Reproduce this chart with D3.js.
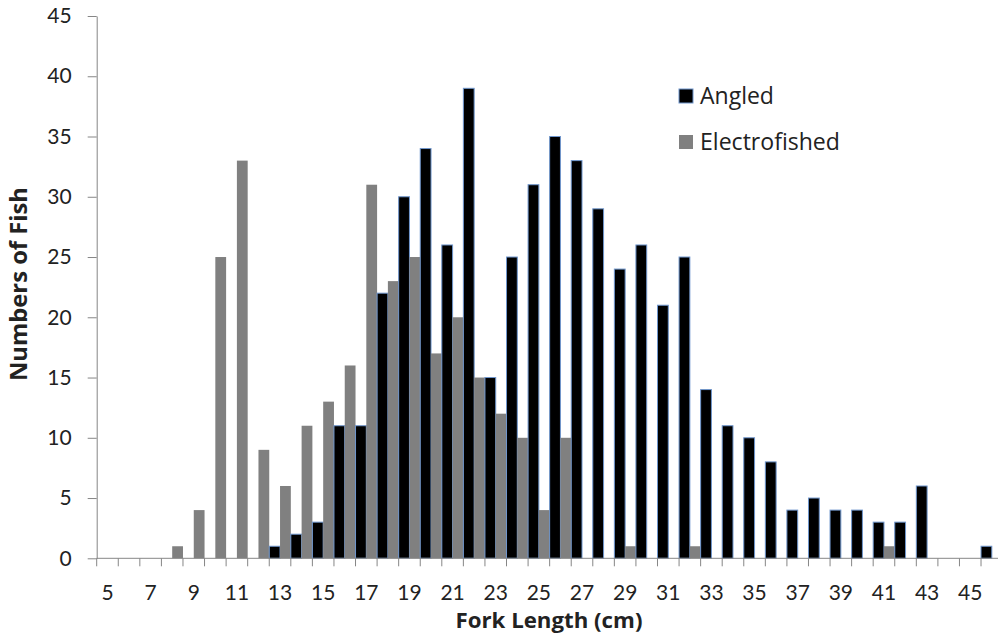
<!DOCTYPE html>
<html>
<head>
<meta charset="utf-8">
<script src="https://cdn.jsdelivr.net/npm/d3@7"></script>
<style>
  html, body { margin: 0; padding: 0; background: #fff; }
  svg { display: block; }
  text { font-family: Lato, "Open Sans", sans-serif; fill: #222; }
</style>
</head>
<body>
<svg id="chart" width="998" height="637"></svg>
<script>
// ---- data ----
const categories = [5,6,7,8,9,10,11,12,13,14,15,16,17,18,19,20,21,22,23,24,25,26,27,28,29,30,31,32,33,34,35,36,37,38,39,40,41,42,43,44,45,46];
const angled =        [0,0,0,0,0,0,0,0,1,2,3,11,11,22,30,34,26,39,15,25,31,35,33,29,24,26,21,25,14,11,10,8,4,5,4,4,3,3,6,0,0,1];
const electrofished = [0,0,0,1,4,25,33,9,6,11,13,16,31,23,25,17,20,15,12,10,4,10,0,0,1,0,0,1,0,0,0,0,0,0,0,0,1,0,0,0,0,0];
const seriesNames = ["Angled", "Electrofished"];
const yTicks = [0,5,10,15,20,25,30,35,40,45];
const xTickLabels = [5,7,9,11,13,15,17,19,21,23,25,27,29,31,33,35,37,39,41,43,45];

// ---- layout ----
const svg = d3.select("#chart");
const pLeft = 96.7, pRight = 1002.6, pTop = 16, pBottom = 558.3;
const colors = { "Angled": "#000000", "Electrofished": "#808080" };
const textFont = "'Open Sans', Lato, sans-serif";

function fitWidth(sel, target) {
  sel.each(function() {
    const el = d3.select(this);
    const fs = parseFloat(el.style("font-size"));
    const w = this.getComputedTextLength();
    if (w > 0) el.style("font-size", (fs * target / w) + "px");
  });
}

const x = d3.scaleBand().domain(categories).range([pLeft, pRight]).paddingInner(0).paddingOuter(0);
const xs = d3.scaleBand().domain(seriesNames).range([0, x.bandwidth()]).padding(0);
const y = d3.scaleLinear().domain([0, 45]).range([pBottom, pTop]);

const rows = categories.map((c, i) => ({ c, vals: [
  { s: "Angled", v: angled[i] },
  { s: "Electrofished", v: electrofished[i] }
]}));

// bars
const g = svg.append("g");
const groups = g.selectAll("g.cat").data(rows).join("g")
  .attr("class", "cat")
  .attr("transform", d => `translate(${x(d.c)},0)`);
groups.selectAll("rect").data(d => d.vals).join("rect")
  .attr("x", d => xs(d.s))
  .attr("width", xs.bandwidth())
  .attr("y", d => y(d.v))
  .attr("height", d => y(0) - y(d.v))
  .attr("fill", d => colors[d.s])
  .attr("stroke", d => (d.s === "Angled" && d.v > 0) ? "#6f96cd" : "none")
  .attr("stroke-width", 1);

// y axis
const yAxis = d3.axisLeft(y).tickValues(yTicks).tickSize(9).tickPadding(16).tickSizeOuter(0);
const yg = svg.append("g").attr("transform", `translate(${pLeft},0)`).call(yAxis);
yg.select(".domain").attr("stroke", "#868686");
yg.selectAll(".tick line").attr("stroke", "#868686");
yg.selectAll(".tick text").style("font-size", "21px").attr("fill", "#222")
  .style("font-family", "Lato, 'Open Sans', sans-serif");

// x axis line and boundary ticks
const xg = svg.append("g");
xg.append("line").attr("x1", pLeft).attr("x2", pRight).attr("y1", y(0)).attr("y2", y(0))
  .attr("stroke", "#868686");
const boundaries = categories.map(c => x(c)).concat([x(categories[categories.length-1]) + x.bandwidth()]);
xg.selectAll("line.tk").data(boundaries).join("line").attr("class", "tk")
  .attr("x1", d => d).attr("x2", d => d)
  .attr("y1", y(0)).attr("y2", y(0) + 8)
  .attr("stroke", "#868686");

// x labels via axis
const xAxis = d3.axisBottom(x).tickValues(xTickLabels).tickSize(0).tickPadding(27);
const xl = svg.append("g").attr("transform", `translate(0,${pBottom})`).call(xAxis);
xl.select(".domain").remove();
xl.selectAll(".tick text").style("font-size", "21px").attr("fill", "#222")
  .style("font-family", "Lato, 'Open Sans', sans-serif");

// axis titles
svg.append("text")
  .attr("x", 549).attr("y", 627.5)
  .attr("text-anchor", "middle")
  .style("font-family", textFont)
  .style("font-size", "21px").style("font-weight", "bold")
  .text("Fork Length (cm)")
  .call(fitWidth, 187);
svg.append("text")
  .attr("transform", "translate(26.5,284) rotate(-90)")
  .attr("text-anchor", "middle")
  .style("font-family", textFont)
  .style("font-size", "21px").style("font-weight", "bold")
  .text("Numbers of Fish")
  .call(fitWidth, 194);

// legend
const lg = svg.append("g").attr("transform", "translate(679,89)");
const li = lg.selectAll("g").data(seriesNames).join("g")
  .attr("transform", (d, i) => `translate(0,${i * 46})`);
li.append("rect").attr("width", 14).attr("height", 14)
  .attr("fill", d => colors[d])
  .attr("stroke", d => d === "Angled" ? "#6f96cd" : "none");
li.append("text").attr("x", 21).attr("y", 14.5)
  .style("font-family", textFont)
  .style("font-size", "21px")
  .text(d => d)
  .each(function(d) { d3.select(this).call(fitWidth, d === "Angled" ? 74 : 140); });
</script>
</body>
</html>
